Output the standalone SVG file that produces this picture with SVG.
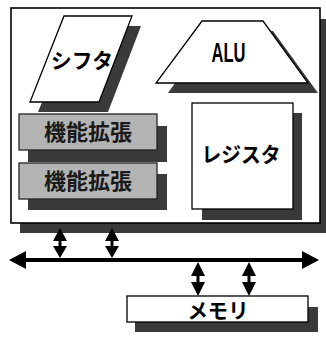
<svg xmlns="http://www.w3.org/2000/svg" width="326" height="338" viewBox="0 0 326 338">
<style>
.shadow{fill:#3a3a3a}
.box{fill:#fff;stroke:#000;stroke-width:1.3}
.gbox{fill:#b4b4b4;stroke:#222;stroke-width:1.3}
.jp{font-family:"Noto Sans CJK JP","Noto Sans CJK SC",sans-serif;font-weight:bold;text-anchor:middle;fill:#000}
.ext{fill:#1a1a1a}
.lat{font-family:"Liberation Sans",Arial,sans-serif;font-weight:bold;text-anchor:middle;fill:#000}
</style>
<rect width="326" height="338" fill="#fff"/>
<g id="cpu">
<rect class="shadow" x="20" y="19" width="306" height="214"/>
<rect x="11" y="8" width="309" height="215" fill="#fff" stroke="#000" stroke-width="1.6"/>
</g>
<g id="shifter">
<polygon class="shadow" points="73,26 141,26 108,112 38,112"/>
<polygon class="box" points="64,16 132,16 99,102 30,102"/>
<text class="jp" x="82" y="68" font-size="21" textLength="62" lengthAdjust="spacingAndGlyphs">シフタ</text>
</g>
<g id="alu">
<polygon class="shadow" points="212,31 273,31 318,93 168,93"/>
<polygon class="box" points="202,21 263,21 308,83 156,83"/>
<text class="lat" x="228.5" y="62" font-size="27" textLength="34" lengthAdjust="spacingAndGlyphs">ALU</text>
</g>
<g id="ext1">
<rect class="shadow" x="28" y="126" width="139" height="36"/>
<rect class="gbox" x="19" y="114" width="138" height="36"/>
<text class="jp ext" x="88" y="140" font-size="22">機能拡張</text>
</g>
<g id="ext2">
<rect class="shadow" x="28" y="174" width="139" height="36"/>
<rect class="gbox" x="19" y="163" width="138" height="36"/>
<text class="jp ext" x="88" y="189" font-size="22">機能拡張</text>
</g>
<g id="register">
<rect class="shadow" x="202" y="113" width="100" height="107"/>
<rect class="box" x="192" y="103" width="101" height="106"/>
<text class="jp" x="241" y="162" font-size="21" textLength="79" lengthAdjust="spacingAndGlyphs">レジスタ</text>
</g>
<g id="memory">
<rect class="shadow" x="135" y="307" width="183" height="25"/>
<rect class="box" x="127" y="296" width="181" height="26"/>
<text class="jp" x="218" y="318" font-size="21" textLength="61" lengthAdjust="spacingAndGlyphs">メモリ</text>
</g>
<g id="connectors" fill="#000" stroke="none">
<rect x="22" y="258" width="284" height="4"/>
<polygon points="9,260 26,251 26,269"/>
<polygon points="319,260 302,251 302,269"/>
<rect x="58.5" y="236" width="3" height="14"/>
<polygon points="60,228 53,241 67,241"/>
<polygon points="60,258 53,246 67,246"/>
<rect x="110.5" y="236" width="3" height="14"/>
<polygon points="112,228 105,241 119,241"/>
<polygon points="112,258 105,246 119,246"/>
<rect x="196.5" y="270" width="3" height="16"/>
<polygon points="198,262 191,276 205,276"/>
<polygon points="198,296 191,282 205,282"/>
<rect x="247.5" y="270" width="3" height="16"/>
<polygon points="249,262 242,276 256,276"/>
<polygon points="249,296 242,282 256,282"/>
</g>
</svg>
